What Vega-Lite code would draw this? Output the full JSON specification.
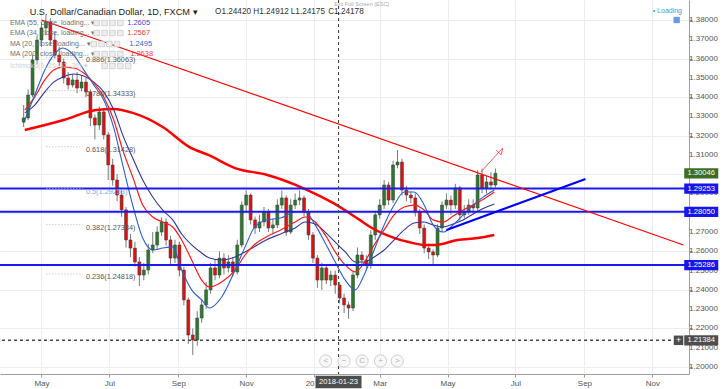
{
"$schema":"https://vega.github.io/schema/vega-lite/v6.json",
"width":689,"height":374,"autosize":"none","padding":{"left":0,"top":0,"right":35,"bottom":15},"background":"white",
"config":{"view":{"stroke":null},"font":"Liberation Sans","text":{"font":"Liberation Sans"}},
"resolve":{"scale":{"color":"independent"}},
"datasets":{
"candles":[
{"d":"2017-04-15","o":1.3270,"h":1.3359,"l":1.3245,"c":1.3292},
{"d":"2017-04-19","o":1.3292,"h":1.3440,"l":1.3280,"c":1.3411},
{"d":"2017-04-23","o":1.3411,"h":1.3620,"l":1.3400,"c":1.3593},
{"d":"2017-04-27","o":1.3593,"h":1.3720,"l":1.3570,"c":1.3696},
{"d":"2017-05-01","o":1.3696,"h":1.3790,"l":1.3660,"c":1.3759},
{"d":"2017-05-05","o":1.3759,"h":1.3826,"l":1.3720,"c":1.3790},
{"d":"2017-05-09","o":1.3790,"h":1.3810,"l":1.3670,"c":1.3696},
{"d":"2017-05-13","o":1.3696,"h":1.3740,"l":1.3600,"c":1.3618},
{"d":"2017-05-17","o":1.3618,"h":1.3660,"l":1.3560,"c":1.3582},
{"d":"2017-05-21","o":1.3582,"h":1.3600,"l":1.3470,"c":1.3499},
{"d":"2017-05-25","o":1.3499,"h":1.3530,"l":1.3440,"c":1.3463},
{"d":"2017-05-29","o":1.3463,"h":1.3520,"l":1.3450,"c":1.3489},
{"d":"2017-06-02","o":1.3489,"h":1.3530,"l":1.3420,"c":1.3447},
{"d":"2017-06-06","o":1.3447,"h":1.3510,"l":1.3430,"c":1.3478},
{"d":"2017-06-10","o":1.3478,"h":1.3500,"l":1.3400,"c":1.3427},
{"d":"2017-06-14","o":1.3427,"h":1.3440,"l":1.3250,"c":1.3292},
{"d":"2017-06-18","o":1.3292,"h":1.3310,"l":1.3180,"c":1.3255},
{"d":"2017-06-22","o":1.3255,"h":1.3350,"l":1.3230,"c":1.3323},
{"d":"2017-06-26","o":1.3323,"h":1.3340,"l":1.3180,"c":1.3204},
{"d":"2017-06-30","o":1.3204,"h":1.3220,"l":1.2970,"c":1.3048},
{"d":"2017-07-04","o":1.3048,"h":1.3080,"l":1.2940,"c":1.2970},
{"d":"2017-07-08","o":1.2970,"h":1.3000,"l":1.2860,"c":1.2892},
{"d":"2017-07-12","o":1.2892,"h":1.2920,"l":1.2780,"c":1.2815},
{"d":"2017-07-16","o":1.2815,"h":1.2830,"l":1.2620,"c":1.2659},
{"d":"2017-07-20","o":1.2659,"h":1.2690,"l":1.2570,"c":1.2617},
{"d":"2017-07-24","o":1.2617,"h":1.2650,"l":1.2520,"c":1.2545},
{"d":"2017-07-28","o":1.2545,"h":1.2570,"l":1.2420,"c":1.2477},
{"d":"2017-08-01","o":1.2477,"h":1.2540,"l":1.2450,"c":1.2503},
{"d":"2017-08-05","o":1.2503,"h":1.2640,"l":1.2480,"c":1.2607},
{"d":"2017-08-09","o":1.2607,"h":1.2700,"l":1.2590,"c":1.2633},
{"d":"2017-08-13","o":1.2633,"h":1.2730,"l":1.2610,"c":1.2700},
{"d":"2017-08-17","o":1.2700,"h":1.2777,"l":1.2680,"c":1.2752},
{"d":"2017-08-21","o":1.2752,"h":1.2770,"l":1.2630,"c":1.2659},
{"d":"2017-08-25","o":1.2659,"h":1.2680,"l":1.2530,"c":1.2565},
{"d":"2017-08-29","o":1.2565,"h":1.2660,"l":1.2540,"c":1.2633},
{"d":"2017-09-02","o":1.2633,"h":1.2650,"l":1.2470,"c":1.2503},
{"d":"2017-09-06","o":1.2503,"h":1.2520,"l":1.2320,"c":1.2348},
{"d":"2017-09-10","o":1.2348,"h":1.2360,"l":1.2120,"c":1.2166},
{"d":"2017-09-14","o":1.2166,"h":1.2200,"l":1.2062,"c":1.2140},
{"d":"2017-09-18","o":1.2140,"h":1.2290,"l":1.2110,"c":1.2254},
{"d":"2017-09-22","o":1.2254,"h":1.2350,"l":1.2230,"c":1.2322},
{"d":"2017-09-26","o":1.2322,"h":1.2440,"l":1.2300,"c":1.2400},
{"d":"2017-09-30","o":1.2400,"h":1.2540,"l":1.2380,"c":1.2514},
{"d":"2017-10-04","o":1.2514,"h":1.2560,"l":1.2450,"c":1.2477},
{"d":"2017-10-08","o":1.2477,"h":1.2600,"l":1.2460,"c":1.2565},
{"d":"2017-10-12","o":1.2565,"h":1.2590,"l":1.2480,"c":1.2514},
{"d":"2017-10-16","o":1.2514,"h":1.2580,"l":1.2490,"c":1.2545},
{"d":"2017-10-20","o":1.2545,"h":1.2570,"l":1.2470,"c":1.2493},
{"d":"2017-10-24","o":1.2493,"h":1.2660,"l":1.2480,"c":1.2633},
{"d":"2017-10-28","o":1.2633,"h":1.2860,"l":1.2620,"c":1.2840},
{"d":"2017-11-01","o":1.2840,"h":1.2916,"l":1.2800,"c":1.2892},
{"d":"2017-11-05","o":1.2892,"h":1.2900,"l":1.2740,"c":1.2763},
{"d":"2017-11-09","o":1.2763,"h":1.2780,"l":1.2690,"c":1.2721},
{"d":"2017-11-13","o":1.2721,"h":1.2790,"l":1.2700,"c":1.2752},
{"d":"2017-11-17","o":1.2752,"h":1.2830,"l":1.2730,"c":1.2804},
{"d":"2017-11-21","o":1.2804,"h":1.2820,"l":1.2700,"c":1.2721},
{"d":"2017-11-25","o":1.2721,"h":1.2770,"l":1.2690,"c":1.2737},
{"d":"2017-11-29","o":1.2737,"h":1.2870,"l":1.2720,"c":1.2840},
{"d":"2017-12-03","o":1.2840,"h":1.2916,"l":1.2820,"c":1.2877},
{"d":"2017-12-07","o":1.2877,"h":1.2890,"l":1.2680,"c":1.2700},
{"d":"2017-12-11","o":1.2700,"h":1.2870,"l":1.2690,"c":1.2840},
{"d":"2017-12-15","o":1.2840,"h":1.2900,"l":1.2820,"c":1.2866},
{"d":"2017-12-19","o":1.2866,"h":1.2916,"l":1.2840,"c":1.2877},
{"d":"2017-12-23","o":1.2877,"h":1.2890,"l":1.2780,"c":1.2804},
{"d":"2017-12-27","o":1.2804,"h":1.2820,"l":1.2660,"c":1.2685},
{"d":"2017-12-31","o":1.2685,"h":1.2700,"l":1.2540,"c":1.2565},
{"d":"2018-01-04","o":1.2565,"h":1.2580,"l":1.2410,"c":1.2451},
{"d":"2018-01-08","o":1.2451,"h":1.2540,"l":1.2400,"c":1.2514},
{"d":"2018-01-12","o":1.2514,"h":1.2530,"l":1.2430,"c":1.2451},
{"d":"2018-01-16","o":1.2451,"h":1.2500,"l":1.2420,"c":1.2477},
{"d":"2018-01-20","o":1.2477,"h":1.2500,"l":1.2380,"c":1.2425},
{"d":"2018-01-24","o":1.2425,"h":1.2440,"l":1.2330,"c":1.2358},
{"d":"2018-01-28","o":1.2358,"h":1.2380,"l":1.2280,"c":1.2322},
{"d":"2018-02-01","o":1.2322,"h":1.2340,"l":1.2250,"c":1.2306},
{"d":"2018-02-05","o":1.2306,"h":1.2500,"l":1.2290,"c":1.2477},
{"d":"2018-02-09","o":1.2477,"h":1.2620,"l":1.2460,"c":1.2581},
{"d":"2018-02-13","o":1.2581,"h":1.2600,"l":1.2530,"c":1.2555},
{"d":"2018-02-17","o":1.2555,"h":1.2580,"l":1.2500,"c":1.2529},
{"d":"2018-02-21","o":1.2529,"h":1.2710,"l":1.2510,"c":1.2685},
{"d":"2018-02-25","o":1.2685,"h":1.2810,"l":1.2660,"c":1.2789},
{"d":"2018-03-01","o":1.2789,"h":1.2870,"l":1.2770,"c":1.2840},
{"d":"2018-03-05","o":1.2840,"h":1.2970,"l":1.2820,"c":1.2944},
{"d":"2018-03-09","o":1.2944,"h":1.2960,"l":1.2840,"c":1.2866},
{"d":"2018-03-13","o":1.2866,"h":1.3070,"l":1.2850,"c":1.3048},
{"d":"2018-03-17","o":1.3048,"h":1.3125,"l":1.3030,"c":1.3063},
{"d":"2018-03-21","o":1.3063,"h":1.3080,"l":1.2890,"c":1.2918},
{"d":"2018-03-25","o":1.2918,"h":1.2940,"l":1.2860,"c":1.2892},
{"d":"2018-03-29","o":1.2892,"h":1.2910,"l":1.2850,"c":1.2877},
{"d":"2018-04-02","o":1.2877,"h":1.2900,"l":1.2780,"c":1.2804},
{"d":"2018-04-06","o":1.2804,"h":1.2820,"l":1.2690,"c":1.2721},
{"d":"2018-04-10","o":1.2721,"h":1.2740,"l":1.2590,"c":1.2617},
{"d":"2018-04-14","o":1.2617,"h":1.2640,"l":1.2560,"c":1.2597},
{"d":"2018-04-18","o":1.2597,"h":1.2610,"l":1.2528,"c":1.2581},
{"d":"2018-04-22","o":1.2581,"h":1.2740,"l":1.2570,"c":1.2721},
{"d":"2018-04-26","o":1.2721,"h":1.2860,"l":1.2700,"c":1.2840},
{"d":"2018-04-30","o":1.2840,"h":1.2900,"l":1.2820,"c":1.2866},
{"d":"2018-05-04","o":1.2866,"h":1.2890,"l":1.2790,"c":1.2840},
{"d":"2018-05-08","o":1.2840,"h":1.2950,"l":1.2820,"c":1.2929},
{"d":"2018-05-12","o":1.2929,"h":1.2940,"l":1.2760,"c":1.2789},
{"d":"2018-05-16","o":1.2789,"h":1.2840,"l":1.2770,"c":1.2804},
{"d":"2018-05-20","o":1.2804,"h":1.2870,"l":1.2790,"c":1.2840},
{"d":"2018-05-24","o":1.2840,"h":1.2870,"l":1.2800,"c":1.2825},
{"d":"2018-05-28","o":1.2825,"h":1.3020,"l":1.2810,"c":1.2996},
{"d":"2018-06-01","o":1.2996,"h":1.3030,"l":1.2900,"c":1.2929},
{"d":"2018-06-05","o":1.2929,"h":1.2990,"l":1.2900,"c":1.2960},
{"d":"2018-06-09","o":1.2960,"h":1.3010,"l":1.2920,"c":1.2944},
{"d":"2018-06-13","o":1.2944,"h":1.3030,"l":1.2930,"c":1.3005}
],
"ma":[
{"d":"2017-04-16","ma20":1.3281,"ema34":1.3333,"ema55":1.3318},
{"d":"2017-04-25","ma20":1.3411,"ema34":1.3401,"ema55":1.3359},
{"d":"2017-05-04","ma20":1.3541,"ema34":1.3489,"ema55":1.3427},
{"d":"2017-05-12","ma20":1.3618,"ema34":1.3541,"ema55":1.3478},
{"d":"2017-05-20","ma20":1.3655,"ema34":1.3556,"ema55":1.3504},
{"d":"2017-05-30","ma20":1.3618,"ema34":1.3551,"ema55":1.3520},
{"d":"2017-06-08","ma20":1.3541,"ema34":1.3525,"ema55":1.3510},
{"d":"2017-06-17","ma20":1.3463,"ema34":1.3473,"ema55":1.3478},
{"d":"2017-06-26","ma20":1.3385,"ema34":1.3401,"ema55":1.3427},
{"d":"2017-07-05","ma20":1.3240,"ema34":1.3281,"ema55":1.3333},
{"d":"2017-07-13","ma20":1.3048,"ema34":1.3126,"ema55":1.3204},
{"d":"2017-07-22","ma20":1.2840,"ema34":1.2986,"ema55":1.3084},
{"d":"2017-07-31","ma20":1.2669,"ema34":1.2840,"ema55":1.2970},
{"d":"2017-08-09","ma20":1.2607,"ema34":1.2778,"ema55":1.2882},
{"d":"2017-08-18","ma20":1.2617,"ema34":1.2752,"ema55":1.2814},
{"d":"2017-08-27","ma20":1.2623,"ema34":1.2726,"ema55":1.2763},
{"d":"2017-09-04","ma20":1.2503,"ema34":1.2659,"ema55":1.2690},
{"d":"2017-09-13","ma20":1.2400,"ema34":1.2555,"ema55":1.2633},
{"d":"2017-09-22","ma20":1.2348,"ema34":1.2451,"ema55":1.2591},
{"d":"2017-09-29","ma20":1.2306,"ema34":1.2415,"ema55":1.2565},
{"d":"2017-10-10","ma20":1.2363,"ema34":1.2441,"ema55":1.2555},
{"d":"2017-10-22","ma20":1.2503,"ema34":1.2503,"ema55":1.2571},
{"d":"2017-10-31","ma20":1.2623,"ema34":1.2581,"ema55":1.2597},
{"d":"2017-11-08","ma20":1.2721,"ema34":1.2633,"ema55":1.2623},
{"d":"2017-11-19","ma20":1.2763,"ema34":1.2674,"ema55":1.2659},
{"d":"2017-12-02","ma20":1.2773,"ema34":1.2711,"ema55":1.2690},
{"d":"2017-12-15","ma20":1.2804,"ema34":1.2752,"ema55":1.2721},
{"d":"2017-12-24","ma20":1.2804,"ema34":1.2778,"ema55":1.2752},
{"d":"2018-01-02","ma20":1.2737,"ema34":1.2752,"ema55":1.2742},
{"d":"2018-01-11","ma20":1.2643,"ema34":1.2685,"ema55":1.2700},
{"d":"2018-01-20","ma20":1.2545,"ema34":1.2597,"ema55":1.2648},
{"d":"2018-01-29","ma20":1.2451,"ema34":1.2529,"ema55":1.2597},
{"d":"2018-02-07","ma20":1.2400,"ema34":1.2493,"ema55":1.2545},
{"d":"2018-02-15","ma20":1.2477,"ema34":1.2540,"ema55":1.2545},
{"d":"2018-02-24","ma20":1.2607,"ema34":1.2633,"ema55":1.2571},
{"d":"2018-03-05","ma20":1.2737,"ema34":1.2711,"ema55":1.2607},
{"d":"2018-03-14","ma20":1.2840,"ema34":1.2789,"ema55":1.2659},
{"d":"2018-03-23","ma20":1.2908,"ema34":1.2830,"ema55":1.2711},
{"d":"2018-04-01","ma20":1.2908,"ema34":1.2840,"ema55":1.2747},
{"d":"2018-04-10","ma20":1.2840,"ema34":1.2814,"ema55":1.2752},
{"d":"2018-04-18","ma20":1.2737,"ema34":1.2763,"ema55":1.2737},
{"d":"2018-04-27","ma20":1.2700,"ema34":1.2752,"ema55":1.2726},
{"d":"2018-05-06","ma20":1.2737,"ema34":1.2783,"ema55":1.2742},
{"d":"2018-05-15","ma20":1.2789,"ema34":1.2814,"ema55":1.2763},
{"d":"2018-05-24","ma20":1.2840,"ema34":1.2840,"ema55":1.2794},
{"d":"2018-06-01","ma20":1.2877,"ema34":1.2866,"ema55":1.2820},
{"d":"2018-06-12","ma20":1.2918,"ema34":1.2908,"ema55":1.2846}
],
"ma200":[
{"d":"2017-04-16","v":1.3229},{"d":"2017-05-21","v":1.3281},{"d":"2017-06-19","v":1.3333},{"d":"2017-07-05","v":1.3338},
{"d":"2017-07-22","v":1.3318},{"d":"2017-08-18","v":1.3245},{"d":"2017-09-11","v":1.3141},{"d":"2017-09-28","v":1.3100},
{"d":"2017-10-22","v":1.3032},{"d":"2017-11-20","v":1.2996},{"d":"2017-12-04","v":1.2970},{"d":"2017-12-26","v":1.2918},
{"d":"2018-01-18","v":1.2851},{"d":"2018-02-11","v":1.2763},{"d":"2018-02-22","v":1.2721},{"d":"2018-03-12","v":1.2674},
{"d":"2018-03-27","v":1.2648},{"d":"2018-04-11","v":1.2633},{"d":"2018-04-20","v":1.2633},{"d":"2018-05-10","v":1.2659},
{"d":"2018-05-28","v":1.2669},{"d":"2018-06-12","v":1.2685}
],
"ylab":[
{"p":1.20,"t":"1.20000"},{"p":1.21,"t":"1.21000"},{"p":1.22,"t":"1.22000"},{"p":1.23,"t":"1.23000"},{"p":1.24,"t":"1.24000"},
{"p":1.25,"t":"1.25000"},{"p":1.26,"t":"1.26000"},{"p":1.27,"t":"1.27000"},{"p":1.29,"t":"1.29000"},{"p":1.31,"t":"1.31000"},
{"p":1.32,"t":"1.32000"},{"p":1.33,"t":"1.33000"},{"p":1.34,"t":"1.34000"},{"p":1.35,"t":"1.35000"},{"p":1.36,"t":"1.36000"},
{"p":1.37,"t":"1.37000"},{"p":1.38,"t":"1.38000"}
],
"hlines":[{"p":1.29253},{"p":1.2805},{"p":1.25286}],
"redtrend":[{"d":"2017-05-01","p":1.38},{"d":"2018-11-29","p":1.2633}],
"bluetrend":[{"d":"2018-04-30","p":1.2711},{"d":"2018-09-02","p":1.2975}],
"arrow":[
{"g":1,"d":"2018-05-31T00:00:00","p":1.30116},{"g":1,"d":"2018-06-19T12:00:00","p":1.31361},
{"g":2,"d":"2018-06-13T14:00:00","p":1.31252},{"g":2,"d":"2018-06-19T12:00:00","p":1.31361},{"g":2,"d":"2018-06-18T05:00:00","p":1.31008}
],
"fib":[
{"p":1.36063,"t":"0.886(1.36063)"},{"p":1.34333,"t":"0.786(1.34333)"},{"p":1.31428,"t":"0.618(1.31428)"},
{"p":1.29253,"t":"0.5(1.29253)"},{"p":1.27384,"t":"0.382(1.27384)"},{"p":1.24818,"t":"0.236(1.24818)"}
],
"header":[{"d":"2017-04-20T10:00:00","p":1.38415,"t":"U.S. Dollar/Canadian Dollar, 1D, FXCM ▾"}],
"ohlc":[
{"d":"2017-10-04T00:00:00","p":1.38415,"t":"O1.24420"},{"d":"2017-11-07T10:00:00","p":1.38415,"t":"H1.24912"},
{"d":"2017-12-11T02:00:00","p":1.38415,"t":"L1.24175"},{"d":"2018-01-13T17:00:00","p":1.38415,"t":"C1.24178"}
],
"legend":[
{"d":"2017-04-02T17:00:00","p":1.37844,"t":"EMA (55, close, loading... ▾"},
{"d":"2017-04-02T17:00:00","p":1.37326,"t":"EMA (34, close, loading... ▾"},
{"d":"2017-04-02T17:00:00","p":1.36755,"t":"MA (20, close, loading... ▾"},
{"d":"2017-04-02T17:00:00","p":1.36236,"t":"MA (200, close, loading... ▾"}
],
"ichi":[{"d":"2017-04-02T17:00:00","p":1.35614,"t":"Ichimoku(9, 26, 52, 26) ▾"}],
"legvals":[
{"d":"2017-07-17T00:00:00","p":1.37844,"s":"EMA55","t":"1.2605"},
{"d":"2017-07-17T00:00:00","p":1.37326,"s":"EMA34","t":"1.2567"},
{"d":"2017-07-18T20:00:00","p":1.36755,"s":"MA20","t":"1.2495"},
{"d":"2017-07-19T17:00:00","p":1.36236,"s":"MA200","t":"1.2638"}
],
"icons":[
{"d":"2017-06-19T14:00:00","p":1.37844},{"d":"2017-06-26T17:00:00","p":1.37844},{"d":"2017-07-03T19:00:00","p":1.37844},{"d":"2017-07-10T22:00:00","p":1.37844},
{"d":"2017-06-19T14:00:00","p":1.37326},{"d":"2017-06-26T17:00:00","p":1.37326},{"d":"2017-07-03T19:00:00","p":1.37326},{"d":"2017-07-10T22:00:00","p":1.37326},
{"d":"2017-06-17T00:00:00","p":1.36755},{"d":"2017-06-24T00:00:00","p":1.36755},{"d":"2017-07-01T00:00:00","p":1.36755},{"d":"2017-07-08T00:00:00","p":1.36755},
{"d":"2017-06-19T14:00:00","p":1.36236},{"d":"2017-06-26T17:00:00","p":1.36236},{"d":"2017-07-03T19:00:00","p":1.36236},{"d":"2017-07-10T22:00:00","p":1.36236},
{"d":"2017-06-26T17:00:00","p":1.35614},{"d":"2017-07-03T19:00:00","p":1.35614},{"d":"2017-07-10T22:00:00","p":1.35614},{"d":"2017-07-17T22:00:00","p":1.35614}
],
"pbox":[
{"p":1.30046,"t":"1.30046","k":"last"},{"p":1.29253,"t":"1.29253","k":"line"},{"p":1.2805,"t":"1.28050","k":"line"},
{"p":1.25286,"t":"1.25286","k":"line"},{"p":1.21384,"t":"1.21384","k":"cross"}
],
"btn":[
{"d":"2018-01-11T12:00:00","p":1.20312,"t":"<"},{"d":"2018-01-27T22:00:00","p":1.20312,"t":"−"},
{"d":"2018-02-13T05:00:00","p":1.20312,"t":"C"},{"d":"2018-03-01T17:00:00","p":1.20312,"t":"+"},{"d":"2018-03-16T19:00:00","p":1.20312,"t":">"}
],
"misc":[
{"d":"2018-11-27T17:00:00","p":1.38467,"t":"• Loading"}
],
"exitfs":[{"d":"2018-01-19T02:00:00","p":1.3883,"t":"Exit Full Screen (ESC)"}],
"datebox":[{"d":"2018-01-23","p":1.19223,"t":"2018-01-23"}]
},
"layer":[
{"data":{"name":"candles"},
 "layer":[
  {"mark":{"type":"rule","color":"#7a7a7a","strokeWidth":1},
   "encoding":{
    "x":{"field":"d","type":"temporal","title":null,"scale":{"domain":[{"year":2017,"month":3,"date":29,"hours":5,"minutes":30},{"year":2018,"month":11,"date":29,"hours":12}]},
      "axis":{"orient":"bottom","tickCount":{"interval":"month","step":2},"labelExpr":"month(datum.value)==0 ? timeFormat(datum.value,'%Y') : timeFormat(datum.value,'%b')","labelColor":"#555555","labelFontSize":8,"labelFont":"Liberation Sans","tickSize":3,"tickColor":"#999999","domainColor":"#a0a0a0","grid":true,"gridColor":"#ececec","labelPadding":2,"labelFlush":false,"labelOverlap":false}},
    "y":{"field":"l","type":"quantitative","title":null,"scale":{"domain":[1.19637,1.39037],"nice":false,"zero":false},
      "axis":{"orient":"right","values":[1.2,1.21,1.22,1.23,1.24,1.25,1.26,1.27,1.28,1.29,1.3,1.31,1.32,1.33,1.34,1.35,1.36,1.37,1.38],"labels":false,"tickSize":3,"tickColor":"#999999","domainColor":"#a0a0a0","grid":true,"gridColor":"#ececec"}},
    "y2":{"field":"h"}}},
  {"mark":{"type":"bar","size":3,"stroke":"#3a3a3a","strokeWidth":0.5},
   "encoding":{
    "x":{"field":"d","type":"temporal","title":null},
    "y":{"field":"o","type":"quantitative","title":null},
    "y2":{"field":"c"},
    "color":{"condition":{"test":"datum.c >= datum.o","value":"#2b7a2b"},"value":"#e01010"}}}
 ]},
{"data":{"name":"ylab"},"mark":{"type":"text","align":"left","baseline":"middle","fontSize":8,"color":"#555555"},
 "encoding":{"x":{"datum":{"year":2018,"month":12,"date":4},"type":"temporal"},"y":{"field":"p","type":"quantitative","title":null},"text":{"field":"t"}}},
{"data":{"name":"ma200"},"mark":{"type":"line","color":"#ff0000","strokeWidth":2.5,"interpolate":"monotone"},
 "encoding":{"x":{"field":"d","type":"temporal","title":null},"y":{"field":"v","type":"quantitative","title":null}}},
{"data":{"name":"ma"},"mark":{"type":"line","color":"#33339a","strokeWidth":1.1,"interpolate":"monotone"},
 "encoding":{"x":{"field":"d","type":"temporal","title":null},"y":{"field":"ema55","type":"quantitative","title":null}}},
{"data":{"name":"ma"},"mark":{"type":"line","color":"#ff1a1a","strokeWidth":1.2,"interpolate":"monotone"},
 "encoding":{"x":{"field":"d","type":"temporal","title":null},"y":{"field":"ema34","type":"quantitative","title":null}}},
{"data":{"name":"ma"},"mark":{"type":"line","color":"#2a5fd0","strokeWidth":1.1,"interpolate":"monotone"},
 "encoding":{"x":{"field":"d","type":"temporal","title":null},"y":{"field":"ma20","type":"quantitative","title":null}}},
{"data":{"name":"hlines"},"mark":{"type":"rule","color":"#1a1af0","strokeWidth":2},
 "encoding":{"y":{"field":"p","type":"quantitative","title":null}}},
{"data":{"name":"redtrend"},"mark":{"type":"line","color":"#ff0000","strokeWidth":1.2,"clip":true},
 "encoding":{"x":{"field":"d","type":"temporal","title":null},"y":{"field":"p","type":"quantitative","title":null}}},
{"data":{"name":"bluetrend"},"mark":{"type":"line","color":"#0000ff","strokeWidth":2.2},
 "encoding":{"x":{"field":"d","type":"temporal","title":null},"y":{"field":"p","type":"quantitative","title":null}}},
{"data":{"name":"arrow"},"mark":{"type":"line","color":"#ff5a5a","strokeWidth":1},
 "encoding":{"x":{"field":"d","type":"temporal","title":null},"y":{"field":"p","type":"quantitative","title":null},"detail":{"field":"g"}}},
{"data":{"name":"fib"},"mark":{"type":"rule","strokeWidth":1,"strokeDash":[1,2]},
 "encoding":{"x":{"datum":{"year":2017,"month":5,"date":5,"hours":10},"type":"temporal"},"x2":{"datum":{"year":2017,"month":6,"date":7,"hours":5}},
  "y":{"field":"p","type":"quantitative","title":null},
  "color":{"condition":{"test":"datum.p == 1.29253","value":"#9fbfef"},"value":"#b4b4b4"}}},
{"data":{"name":"fib"},"mark":{"type":"text","align":"left","baseline":"middle","fontSize":7.3,"dy":3},
 "encoding":{"x":{"datum":{"year":2017,"month":6,"date":10},"type":"temporal"},
  "y":{"field":"p","type":"quantitative","title":null},"text":{"field":"t"},
  "color":{"condition":{"test":"datum.p == 1.29253","value":"#7fa7e6"},"value":"#555555"}}},
{"data":{"name":"hlines"},"mark":{"type":"rule","color":"#444444","strokeWidth":1,"strokeDash":[3,3]},
 "encoding":{"y":{"datum":1.21384,"type":"quantitative"}}},
{"data":{"name":"hlines"},"mark":{"type":"rule","color":"#444444","strokeWidth":1,"strokeDash":[3,3]},
 "encoding":{"x":{"datum":{"year":2018,"month":1,"date":23},"type":"temporal"}}},
{"data":{"name":"header"},"mark":{"type":"text","align":"left","baseline":"middle","fontSize":9.2,"color":"#222222"},
 "encoding":{"x":{"field":"d","type":"temporal","title":null},"y":{"field":"p","type":"quantitative","title":null},"text":{"field":"t"}}},
{"data":{"name":"ohlc"},"mark":{"type":"text","align":"left","baseline":"middle","fontSize":8.2,"color":"#333333"},
 "encoding":{"x":{"field":"d","type":"temporal","title":null},"y":{"field":"p","type":"quantitative","title":null},"text":{"field":"t"}}},
{"data":{"name":"exitfs"},"mark":{"type":"text","align":"left","baseline":"middle","fontSize":5.5,"color":"#aaaaaa"},
 "encoding":{"x":{"field":"d","type":"temporal","title":null},"y":{"field":"p","type":"quantitative","title":null},"text":{"field":"t"}}},
{"data":{"name":"legend"},"mark":{"type":"text","align":"left","baseline":"middle","fontSize":7,"color":"#707070"},
 "encoding":{"x":{"field":"d","type":"temporal","title":null},"y":{"field":"p","type":"quantitative","title":null},"text":{"field":"t"}}},
{"data":{"name":"ichi"},"mark":{"type":"text","align":"left","baseline":"middle","fontSize":7,"color":"#cfcfcf"},
 "encoding":{"x":{"field":"d","type":"temporal","title":null},"y":{"field":"p","type":"quantitative","title":null},"text":{"field":"t"}}},
{"data":{"name":"icons"},"mark":{"type":"point","shape":"square","size":30,"filled":true,"color":"#eeeeee","stroke":"#cccccc","strokeWidth":0.8,"opacity":1},
 "encoding":{"x":{"field":"d","type":"temporal","title":null},"y":{"field":"p","type":"quantitative","title":null}}},
{"data":{"name":"legvals"},"mark":{"type":"text","align":"left","baseline":"middle","fontSize":7.5},
 "encoding":{"x":{"field":"d","type":"temporal","title":null},"y":{"field":"p","type":"quantitative","title":null},"text":{"field":"t"},
  "color":{"field":"s","type":"nominal","legend":null,"scale":{"domain":["EMA55","EMA34","MA20","MA200"],"range":["#4b4bd8","#f03c3c","#2f5fd0","#f03c3c"]}}}},
{"data":{"name":"misc"},"mark":{"type":"text","align":"right","baseline":"middle","fontSize":7,"color":"#3aa0e0"},
 "encoding":{"x":{"field":"d","type":"temporal","title":null},"y":{"field":"p","type":"quantitative","title":null},"text":{"field":"t"}}},
{"data":{"name":"misc"},"mark":{"type":"point","shape":"square","size":40,"filled":true,"color":"#6a9be0","opacity":1},
 "encoding":{"x":{"datum":{"year":2018,"month":11,"date":22,"hours":22},"type":"temporal"},"y":{"datum":1.38,"type":"quantitative"}}},
{"data":{"name":"btn"},"mark":{"type":"point","shape":"circle","size":150,"filled":true,"color":"#f8f8f8","stroke":"#cfcfcf","strokeWidth":1,"opacity":1},
 "encoding":{"x":{"field":"d","type":"temporal","title":null},"y":{"field":"p","type":"quantitative","title":null}}},
{"data":{"name":"btn"},"mark":{"type":"text","align":"center","baseline":"middle","fontSize":8,"color":"#b0b0b0"},
 "encoding":{"x":{"field":"d","type":"temporal","title":null},"y":{"field":"p","type":"quantitative","title":null},"text":{"field":"t"}}},
{"data":{"name":"pbox"},"mark":{"type":"point","shape":"M-1,-0.3H1V0.3H-1Z","size":1156,"filled":true,"opacity":1},
 "encoding":{"x":{"datum":{"year":2018,"month":12,"date":15},"type":"temporal"},"y":{"field":"p","type":"quantitative","title":null},
  "color":{"field":"k","type":"nominal","legend":null,"scale":{"domain":["last","line","cross"],"range":["#3b6e22","#1515ee","#4d4d4d"]}}}},
{"data":{"name":"pbox"},"mark":{"type":"text","align":"center","baseline":"middle","fontSize":7.6,"color":"#ffffff"},
 "encoding":{"x":{"datum":{"year":2018,"month":12,"date":15},"type":"temporal"},"y":{"field":"p","type":"quantitative","title":null},"text":{"field":"t"}}},
{"data":{"name":"datebox"},"mark":{"type":"point","shape":"M-1,-0.27H1V0.27H-1Z","size":2116,"filled":true,"opacity":1,"color":"#4d4d4d"},
 "encoding":{"x":{"field":"d","type":"temporal","title":null},"y":{"field":"p","type":"quantitative","title":null}}},
{"data":{"name":"datebox"},"mark":{"type":"text","align":"center","baseline":"middle","fontSize":7.6,"color":"#ffffff"},
 "encoding":{"x":{"field":"d","type":"temporal","title":null},"y":{"field":"p","type":"quantitative","title":null},"text":{"field":"t"}}},
{"data":{"name":"datebox"},"mark":{"type":"point","shape":"square","size":90,"filled":true,"opacity":1,"color":"#4d4d4d"},
 "encoding":{"x":{"datum":{"year":2018,"month":11,"date":24,"hours":14},"type":"temporal"},"y":{"datum":1.21384,"type":"quantitative"}}},
{"data":{"name":"datebox"},"mark":{"type":"text","align":"center","baseline":"middle","fontSize":9,"color":"#ffffff","text":"+"},
 "encoding":{"x":{"datum":{"year":2018,"month":11,"date":24,"hours":14},"type":"temporal"},"y":{"datum":1.21384,"type":"quantitative"}}}
]
}
